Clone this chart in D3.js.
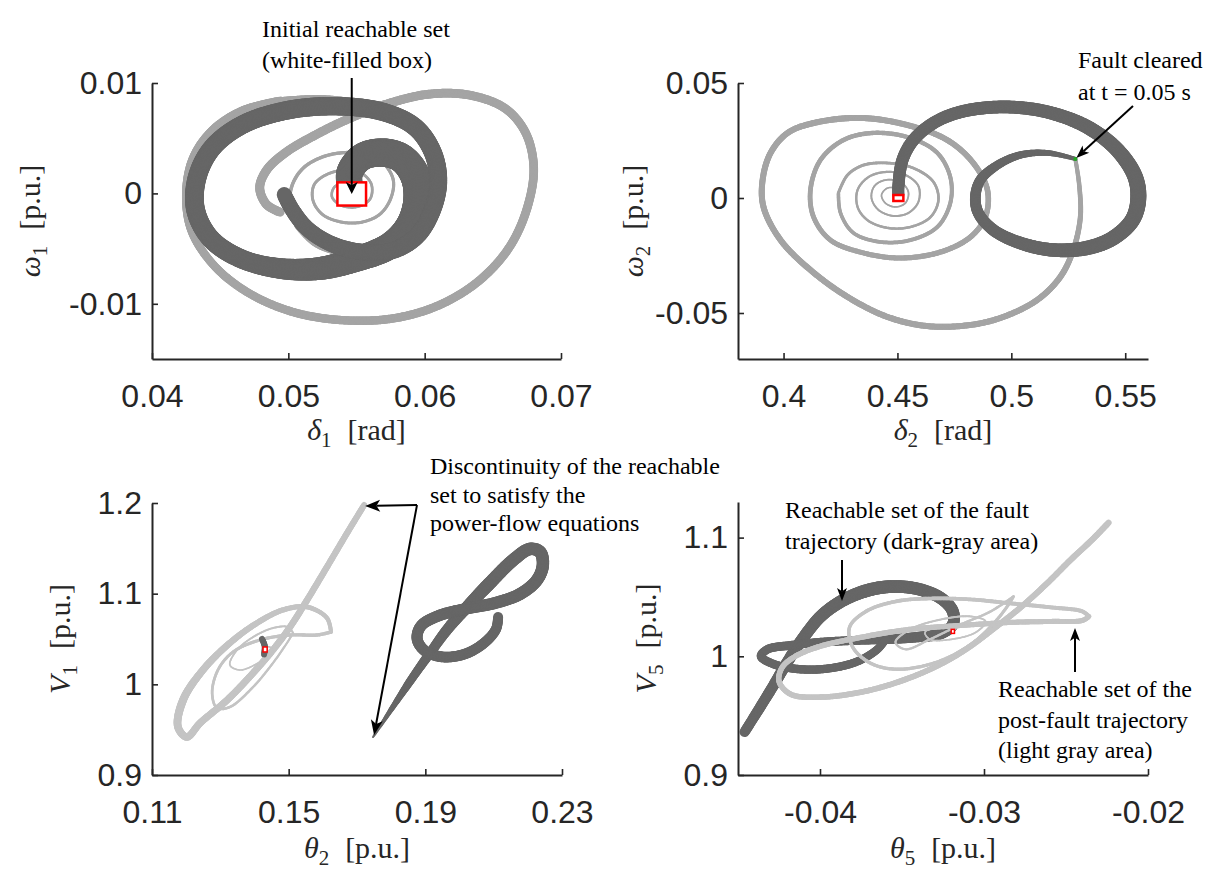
<!DOCTYPE html>
<html>
<head>
<meta charset="utf-8">
<script src="https://cdn.jsdelivr.net/npm/d3@7"></script>
<style>
  html, body { margin: 0; padding: 0; background: #fff; }
  svg { display: block; }
</style>
</head>
<body>
<svg id="chart" width="1208" height="872"></svg>
<script>
// ---------------- Panel 1: delta_1 vs omega_1 ----------------
const p1XLim = [0.04, 0.07];
const p1YLim = [-0.015, 0.01];
const p1XTicks = [0.04, 0.05, 0.06, 0.07];
const p1XTickLabels = ["0.04", "0.05", "0.06", "0.07"];
const p1YTicks = [-0.01, 0, 0.01];
const p1YTickLabels = ["-0.01", "0", "0.01"];
const p1Fault = [
  [0.0545,0.0007],[0.0545,0.0019],[0.0554,0.0033],[0.0569,0.0037],[0.0583,0.0032],[0.0593,0.0016],
  [0.0595,-0.0006],[0.0589,-0.0029],[0.0575,-0.0047],[0.0549,-0.0060],[0.0523,-0.0068],[0.0494,-0.0068],
  [0.0465,-0.0059],[0.0443,-0.0041],[0.0432,-0.0015],[0.0433,0.0014],[0.0444,0.0041],[0.0466,0.0062],
  [0.0498,0.0075],[0.0534,0.0079],[0.0569,0.0074],[0.0593,0.0060],[0.0606,0.0037],[0.0610,0.0010],
  [0.0605,-0.0017],[0.0594,-0.0039],[0.0576,-0.0052],[0.0554,-0.0053],[0.0532,-0.0046],[0.0514,-0.0032],
  [0.0503,-0.0015],[0.0497,-0.0001]
];
const p1PostOuter = [
  [0.0494,-0.0017],[0.0484,-0.0010],[0.0479,0.0005],[0.0484,0.0021],[0.0498,0.0037],[0.0520,0.0053],
  [0.0545,0.0068],[0.0575,0.0082],[0.0604,0.0090],[0.0633,0.0089],[0.0659,0.0077],[0.0674,0.0055],
  [0.0680,0.0023],[0.0675,-0.0014],[0.0662,-0.0049],[0.0640,-0.0079],[0.0611,-0.0101],[0.0578,-0.0113],
  [0.0542,-0.0115],[0.0505,-0.0108],[0.0472,-0.0091],[0.0446,-0.0066],[0.0429,-0.0034],[0.0425,0.0000],
  [0.0430,0.0032],[0.0444,0.0057],[0.0466,0.0075],[0.0494,0.0084]
];
const p1PostMiddle = [
  [0.0494,0.0084],[0.0523,0.0086],[0.0553,0.0082],[0.0580,0.0073],[0.0601,0.0057],[0.0612,0.0030],
  [0.0612,-0.0002],[0.0602,-0.0030],[0.0585,-0.0048],[0.0562,-0.0057],[0.0539,-0.0055],[0.0519,-0.0046],
  [0.0506,-0.0030]
];
const p1PostInner = [
  [0.0506,-0.0030],[0.0501,-0.0011],[0.0503,0.0008],[0.0511,0.0023],[0.0525,0.0033],[0.0542,0.0037],
  [0.0558,0.0035],[0.0570,0.0027],[0.0577,0.0012],[0.0575,-0.0005],[0.0567,-0.0019],[0.0554,-0.0026],
  [0.0539,-0.0026],[0.0525,-0.0019],[0.0518,-0.0006],[0.0519,0.0008],[0.0528,0.0017],[0.0541,0.0021],
  [0.0554,0.0018],[0.0561,0.0008],[0.0560,-0.0005],[0.0551,-0.0012],[0.0539,-0.0011],[0.0532,-0.0003],
  [0.0534,0.0006],[0.0543,0.0009],[0.0550,0.0004],[0.0547,-0.0003]
];
const p1InitBox = [0.0536, 0.0557, -0.0011, 0.0010];   // [x0, x1, y0, y1]

// ---------------- Panel 2: delta_2 vs omega_2 ----------------
const p2XLim = [0.38, 0.56];
const p2YLim = [-0.07, 0.05];
const p2XTicks = [0.4, 0.45, 0.5, 0.55];
const p2XTickLabels = ["0.4", "0.45", "0.5", "0.55"];
const p2YTicks = [-0.05, 0, 0.05];
const p2YTickLabels = ["-0.05", "0", "0.05"];
const p2Fault = [
  [0.4504,0.0013],[0.4504,0.0048],[0.4522,0.0165],[0.4570,0.0252],[0.4658,0.0326],[0.4776,0.0374],
  [0.4965,0.0396],[0.5158,0.0374],[0.5333,0.0309],[0.5465,0.0209],[0.5544,0.0091],[0.5557,-0.0009],
  [0.5531,-0.0096],[0.5447,-0.0174],[0.5333,-0.0217],[0.5184,-0.0226],[0.5040,-0.0196],[0.4921,-0.0139],
  [0.4855,-0.0065],[0.4842,0.0004],[0.4864,0.0078],[0.4939,0.0143],[0.5040,0.0187],[0.5158,0.0196],
  [0.5281,0.0170]
];
const p2PostOuter = [
  [0.5281,0.0170],[0.5298,0.0057],[0.5303,-0.0083],[0.5272,-0.0226],[0.5215,-0.0343],[0.5114,-0.0443],
  [0.4965,-0.0517],[0.4820,-0.0552],[0.4632,-0.0557],[0.4456,-0.0517],[0.4281,-0.0430],[0.4118,-0.0313],
  [0.3987,-0.0183],[0.3912,-0.0039],[0.3908,0.0078],[0.3943,0.0196],[0.4018,0.0283],[0.4132,0.0326],
  [0.4338,0.0348],[0.4544,0.0317],[0.4719,0.0252],[0.4833,0.0152],[0.4895,0.0035],[0.4886,-0.0083],
  [0.4820,-0.0170],[0.4689,-0.0235],[0.4513,-0.0261],[0.4351,-0.0239],[0.4206,-0.0183],[0.4132,-0.0083],
  [0.4118,0.0035],[0.4162,0.0165],[0.4263,0.0252],[0.4395,0.0283],[0.4557,0.0261],[0.4675,0.0196],
  [0.4732,0.0091],[0.4732,-0.0022],[0.4675,-0.0126],[0.4557,-0.0183],[0.4425,-0.0191],[0.4307,-0.0152],
  [0.4250,-0.0065],[0.4241,0.0022]
];
const p2PostInner = [
  [0.4241,0.0022],[0.4281,0.0100],[0.4351,0.0143],[0.4456,0.0152],[0.4570,0.0130],[0.4658,0.0070],
  [0.4680,-0.0009],[0.4645,-0.0083],[0.4557,-0.0126],[0.4456,-0.0130],[0.4368,-0.0096],[0.4325,-0.0039],
  [0.4325,0.0035],[0.4373,0.0091],[0.4447,0.0113],[0.4535,0.0100],[0.4592,0.0052],[0.4592,-0.0017],
  [0.4548,-0.0065],[0.4482,-0.0078],[0.4417,-0.0052],[0.4386,0.0000],[0.4399,0.0052],[0.4447,0.0078],
  [0.4513,0.0070],[0.4548,0.0026],[0.4535,-0.0022],[0.4491,-0.0039],[0.4447,-0.0022],[0.4430,0.0013],
  [0.4456,0.0043],[0.4500,0.0039],[0.4513,0.0004],[0.4487,-0.0013]
];
const p2FaultClearing = [0.5281, 0.0170];
const p2InitBox = [0.4482, 0.4526, -0.0013, 0.0013];

// ---------------- Panel 3: theta_2 vs V_1 ----------------
const p3XLim = [0.11, 0.23];
const p3YLim = [0.9, 1.2];
const p3XTicks = [0.11, 0.15, 0.19, 0.23];
const p3XTickLabels = ["0.11", "0.15", "0.19", "0.23"];
const p3YTicks = [0.9, 1.0, 1.1, 1.2];
const p3YTickLabels = ["0.9", "1", "1.1", "1.2"];
const p3FaultStart = [[0.1422,1.0500],[0.1430,1.0420],[0.1428,1.0330]];
const p3Fault = [
  [0.1747,0.9419],[0.1805,0.9750],[0.1864,1.0081],[0.1914,1.0346],[0.1963,1.0599],[0.2022,1.0853],
  [0.2089,1.1118],[0.2157,1.1371],[0.2206,1.1493],[0.2236,1.1460],[0.2244,1.1316],[0.2227,1.1151],
  [0.2177,1.0996],[0.2104,1.0897],[0.2016,1.0831],[0.1937,1.0754],[0.1887,1.0643],[0.1876,1.0500],
  [0.1899,1.0368],[0.1952,1.0302],[0.2016,1.0335],[0.2072,1.0456],[0.2107,1.0610],[0.2113,1.0743]
];
const p3PostOuter = [
  [0.1721,1.1978],[0.1671,1.1669],[0.1612,1.1294],[0.1554,1.0930],[0.1504,1.0632],[0.1454,1.0379],
  [0.1396,1.0125],[0.1320,0.9827],[0.1241,0.9574],[0.1202,0.9419],[0.1176,0.9530],[0.1191,0.9827],
  [0.1249,1.0158],[0.1328,1.0456],[0.1407,1.0676],[0.1483,1.0820],[0.1554,1.0853],[0.1612,1.0732],
  [0.1624,1.0577]
];
const p3PostMiddle = [
  [0.1624,1.0577],[0.1583,1.0544],[0.1504,1.0544],[0.1416,1.0489],[0.1337,1.0357],[0.1293,1.0158],
  [0.1276,0.9904],[0.1290,0.9739],[0.1328,0.9750],[0.1396,0.9971],[0.1454,1.0235],[0.1495,1.0456],
  [0.1513,1.0566]
];
const p3PostInner = [
  [0.1513,1.0566],[0.1498,1.0632],[0.1454,1.0621],[0.1396,1.0522],[0.1349,1.0379],[0.1328,1.0213],
  [0.1358,1.0158],[0.1416,1.0246],[0.1454,1.0346],[0.1445,1.0412],[0.1425,1.0401]
];
const p3InitBox = [0.1425, 0.1437, 1.0357, 1.0412];

// ---------------- Panel 4: theta_5 vs V_5 ----------------
const p4XLim = [-0.045, -0.02];
const p4YLim = [0.9, 1.13];
const p4XTicks = [-0.04, -0.03, -0.02];
const p4XTickLabels = ["-0.04", "-0.03", "-0.02"];
const p4YTicks = [0.9, 1.0, 1.1];
const p4YTickLabels = ["0.9", "1", "1.1"];
const p4FaultStart = [[-0.0328,1.0210],[-0.0321,1.0215]];
const p4Fault = [
  [-0.0446,0.9362],[-0.0438,0.9538],[-0.0429,0.9740],[-0.0420,0.9950],[-0.0410,1.0160],[-0.0399,1.0344],
  [-0.0385,1.0479],[-0.0369,1.0563],[-0.0354,1.0588],[-0.0339,1.0563],[-0.0326,1.0487],[-0.0319,1.0378],
  [-0.0319,1.0269],[-0.0326,1.0193],[-0.0342,1.0160],[-0.0360,1.0143],[-0.0379,1.0134],[-0.0400,1.0118],
  [-0.0418,1.0092],[-0.0432,1.0059],[-0.0436,1.0000],[-0.0428,0.9933],[-0.0412,0.9891],[-0.0394,0.9899],
  [-0.0377,0.9958],[-0.0365,1.0059],[-0.0360,1.0143]
];
const p4PostOuter = [
  [-0.0224,1.1126],[-0.0234,1.0983],[-0.0247,1.0815],[-0.0261,1.0622],[-0.0277,1.0420],[-0.0293,1.0244],
  [-0.0311,1.0059],[-0.0329,0.9916],[-0.0351,0.9790],[-0.0375,0.9698],[-0.0400,0.9656],[-0.0418,0.9681],
  [-0.0425,0.9790],[-0.0423,0.9908],[-0.0415,1.0000],[-0.0400,1.0084],[-0.0375,1.0160],[-0.0345,1.0227],
  [-0.0314,1.0260],[-0.0283,1.0286],[-0.0259,1.0294],[-0.0240,1.0302],[-0.0236,1.0336]
];
const p4PostMiddle = [
  [-0.0236,1.0336],[-0.0240,1.0378],[-0.0259,1.0412],[-0.0283,1.0445],[-0.0308,1.0479],[-0.0333,1.0487],
  [-0.0354,1.0462],[-0.0372,1.0378],[-0.0382,1.0244],[-0.0380,1.0076],[-0.0369,0.9941],[-0.0353,0.9891],
  [-0.0329,0.9950],[-0.0308,1.0101],[-0.0293,1.0294],[-0.0285,1.0437],[-0.0282,1.0504]
];
const p4PostInner = [
  [-0.0282,1.0504],[-0.0296,1.0378],[-0.0314,1.0269],[-0.0333,1.0143],[-0.0348,1.0059],[-0.0354,1.0118],
  [-0.0345,1.0227],[-0.0326,1.0311],[-0.0308,1.0336],[-0.0299,1.0294],[-0.0305,1.0202],[-0.0320,1.0143],
  [-0.0333,1.0143],[-0.0336,1.0202],[-0.0326,1.0252],[-0.0317,1.0244],[-0.0319,1.0210]
];
const p4InitBox = [-0.0320, -0.0318, 1.0193, 1.0227];

// ---------------- drawing ----------------
const svg = d3.select("#chart");
const DARK = "#666666";
const LIGHT_TOP = "#a4a4a4";
const LIGHT_BOTTOM = "#c4c4c4";
const AXIS = "#262626";
const SERIF = "'Liberation Serif','Times New Roman',Times,serif";
const SANS = "'Liberation Sans',Arial,Helvetica,sans-serif";

// A trajectory drawn as a band whose thickness follows the given stops [[t, width], ...]
function drawBand(g, pts, sx, sy, stops, color) {
  const line = d3.line().x(d => sx(d[0])).y(d => sy(d[1])).curve(d3.curveCatmullRom.alpha(0.5));
  const tmp = g.append("path").attr("d", line(pts)).attr("fill", "none").attr("stroke", "none");
  const node = tmp.node();
  const L = node.getTotalLength();
  const n = Math.max(2, Math.ceil(L / 1.5));
  const s = d3.range(n + 1).map(i => { const p = node.getPointAtLength(L * i / n); return [p.x, p.y]; });
  tmp.remove();
  const wAt = t => {
    for (let k = 1; k < stops.length; k++) {
      if (t <= stops[k][0]) {
        const a = stops[k - 1], b = stops[k];
        return a[1] + (b[1] - a[1]) * (t - a[0]) / (b[0] - a[0]);
      }
    }
    return stops[stops.length - 1][1];
  };
  const band = g.append("g").attr("stroke", color).attr("stroke-linecap", "round").attr("fill", "none");
  for (let i = 0; i < n; i++) {
    band.append("line")
      .attr("x1", s[i][0]).attr("y1", s[i][1])
      .attr("x2", s[i + 1][0]).attr("y2", s[i + 1][1])
      .attr("stroke-width", wAt((i + 0.5) / n));
  }
}

function drawBox(g, box, sx, sy, sw) {
  g.append("rect")
    .attr("x", sx(box[0])).attr("y", sy(box[3]))
    .attr("width", sx(box[1]) - sx(box[0])).attr("height", sy(box[2]) - sy(box[3]))
    .attr("fill", "#fff").attr("stroke", "#ff0000").attr("stroke-width", sw);
}

function drawAxes(g, sx, sy, xTicks, xLabels, yTicks, yLabels) {
  const xa = d3.axisBottom(sx).tickValues(xTicks).tickFormat((d, i) => xLabels[i])
    .tickSizeInner(-6).tickSizeOuter(0).tickPadding(25);
  const ya = d3.axisLeft(sy).tickValues(yTicks).tickFormat((d, i) => yLabels[i])
    .tickSizeInner(-6).tickSizeOuter(0).tickPadding(10);
  const gx = g.append("g").attr("transform", `translate(0,${sy.range()[0]})`).call(xa);
  const gy = g.append("g").attr("transform", `translate(${sx.range()[0]},0)`).call(ya);
  [gx, gy].forEach(a => {
    a.attr("font-family", SANS).attr("font-size", 32);
    a.select("path.domain").attr("stroke", AXIS).attr("stroke-width", 2);
    a.selectAll(".tick line").attr("stroke", AXIS).attr("stroke-width", 1.6);
    a.selectAll(".tick text").attr("fill", AXIS);
  });
}

// Axis label in math style: italic symbol, subscript, unit in brackets
function mathLabel(g, x, y, sym, sub, unit, rotated) {
  const t = g.append("text").attr("font-family", SERIF).attr("font-size", 30)
    .attr("fill", AXIS).attr("text-anchor", "middle");
  if (rotated) t.attr("transform", `translate(${x},${y}) rotate(-90)`);
  else t.attr("x", x).attr("y", y);
  t.append("tspan").attr("font-style", "italic").text(sym);
  t.append("tspan").attr("font-size", 21).attr("dy", 7).text(sub);
  t.append("tspan").attr("dy", -7).attr("dx", 16).text(unit);
}

function arrow(g, x1, y1, x2, y2, len, half) {
  const a = Math.atan2(y2 - y1, x2 - x1);
  const c = Math.cos(a), s = Math.sin(a);
  const bx = x2 - len * c, by = y2 - len * s;
  const nx = x2 - 0.75 * len * c, ny = y2 - 0.75 * len * s;
  g.append("line").attr("x1", x1).attr("y1", y1).attr("x2", nx).attr("y2", ny)
    .attr("stroke", "#000").attr("stroke-width", 2);
  g.append("path")
    .attr("d", `M${x2},${y2}L${bx - half * s},${by + half * c}L${nx},${ny}L${bx + half * s},${by - half * c}Z`)
    .attr("fill", "#000");
}

function noteLines(g, x, y0, lh, lines) {
  lines.forEach((t, i) => {
    g.append("text").attr("x", x).attr("y", y0 + i * lh)
      .attr("font-family", SERIF).attr("font-size", 24).attr("fill", "#000").text(t);
  });
}

// frames of the four panels
const frames = {
  p1: { left: 152, right: 561, top: 83, bottom: 359 },
  p2: { left: 738, right: 1148, top: 83, bottom: 359 },
  p3: { left: 152, right: 562, top: 503, bottom: 775 },
  p4: { left: 738, right: 1148, top: 502, bottom: 775 }
};
const xScale = (f, lim) => d3.scaleLinear().domain(lim).range([f.left, f.right]);
const yScale = (f, lim) => d3.scaleLinear().domain(lim).range([f.bottom, f.top]);

// ---- panel 1
{
  const g = svg.append("g");
  const sx = xScale(frames.p1, p1XLim), sy = yScale(frames.p1, p1YLim);
  drawBand(g, p1PostOuter, sx, sy, [[0, 9], [1, 8]], LIGHT_TOP);
  drawBand(g, p1PostMiddle, sx, sy, [[0, 7], [1, 4]], LIGHT_TOP);
  drawBand(g, p1PostInner, sx, sy, [[0, 3.5], [1, 2.5]], LIGHT_TOP);
  drawBand(g, p1Fault, sx, sy, [[0, 26], [0.1, 30], [0.2, 26], [0.33, 19], [0.75, 18], [1, 15]], DARK);
  drawBox(g, p1InitBox, sx, sy, 2.5);
  drawAxes(g, sx, sy, p1XTicks, p1XTickLabels, p1YTicks, p1YTickLabels);
  mathLabel(g, (frames.p1.left + frames.p1.right) / 2, 440, "δ", "1", "[rad]", false);
  mathLabel(g, 40, (frames.p1.top + frames.p1.bottom) / 2, "ω", "1", "[p.u.]", true);
  noteLines(g, 262, 37, 31, ["Initial reachable set", "(white-filled box)"]);
  const bx = sx((p1InitBox[0] + p1InitBox[1]) / 2), by = sy((p1InitBox[2] + p1InitBox[3]) / 2);
  arrow(g, bx, 78, bx, by, 12, 6);
}

// ---- panel 2
{
  const g = svg.append("g");
  const sx = xScale(frames.p2, p2XLim), sy = yScale(frames.p2, p2YLim);
  drawBand(g, p2PostOuter, sx, sy, [[0, 4], [0.08, 6], [0.45, 6], [1, 3.5]], LIGHT_TOP);
  drawBand(g, p2PostInner, sx, sy, [[0, 3], [1, 1.5]], LIGHT_TOP);
  drawBand(g, p2Fault, sx, sy, [[0, 12], [0.3, 13], [0.5, 16], [0.7, 13], [0.85, 10], [1, 4]], DARK);
  g.append("circle").attr("cx", sx(p2FaultClearing[0])).attr("cy", sy(p2FaultClearing[1]))
    .attr("r", 2).attr("fill", "#22aa22");
  drawBox(g, p2InitBox, sx, sy, 2.5);
  drawAxes(g, sx, sy, p2XTicks, p2XTickLabels, p2YTicks, p2YTickLabels);
  mathLabel(g, (frames.p2.left + frames.p2.right) / 2, 440, "δ", "2", "[rad]", false);
  mathLabel(g, 643, (frames.p2.top + frames.p2.bottom) / 2, "ω", "2", "[p.u.]", true);
  noteLines(g, 1078, 68, 32, ["Fault cleared", "at t = 0.05 s"]);
  arrow(g, 1133, 106, sx(p2FaultClearing[0]) + 1, sy(p2FaultClearing[1]) - 1, 13, 5);
}

// ---- panel 3
{
  const g = svg.append("g");
  const sx = xScale(frames.p3, p3XLim), sy = yScale(frames.p3, p3YLim);
  drawBand(g, p3PostOuter, sx, sy, [[0, 6], [0.5, 7], [0.62, 8], [1, 4]], LIGHT_BOTTOM);
  drawBand(g, p3PostMiddle, sx, sy, [[0, 3.5], [1, 2]], LIGHT_BOTTOM);
  drawBand(g, p3PostInner, sx, sy, [[0, 2], [1, 1.5]], LIGHT_BOTTOM);
  drawBand(g, p3FaultStart, sx, sy, [[0, 6], [1, 6]], DARK);
  drawBand(g, p3Fault, sx, sy, [[0, 2], [0.12, 8], [0.35, 13], [0.6, 12], [1, 10]], DARK);
  drawBox(g, p3InitBox, sx, sy, 1.5);
  drawAxes(g, sx, sy, p3XTicks, p3XTickLabels, p3YTicks, p3YTickLabels);
  mathLabel(g, (frames.p3.left + frames.p3.right) / 2, 858, "θ", "2", "[p.u.]", false);
  mathLabel(g, 70, (frames.p3.top + frames.p3.bottom) / 2, "V", "1", "[p.u.]", true);
  noteLines(g, 430, 474, 28.5, ["Discontinuity of the reachable", "set to satisfy the", "power-flow equations"]);
  const tx = 417, ty = 505;
  arrow(g, tx, ty, sx(p3PostOuter[0][0]) + 1, sy(p3PostOuter[0][1]) + 1, 15, 6);
  arrow(g, tx, ty, sx(p3Fault[0][0]) + 1, sy(p3Fault[0][1]) - 2, 15, 6);
}

// ---- panel 4
{
  const g = svg.append("g");
  const sx = xScale(frames.p4, p4XLim), sy = yScale(frames.p4, p4YLim);
  drawBand(g, p4Fault, sx, sy, [[0, 10], [0.3, 13], [0.45, 12], [0.6, 9], [1, 8]], DARK);
  drawBand(g, p4FaultStart, sx, sy, [[0, 5], [1, 5]], DARK);
  drawBand(g, p4PostOuter, sx, sy, [[0, 6], [1, 5]], LIGHT_BOTTOM);
  drawBand(g, p4PostMiddle, sx, sy, [[0, 4], [1, 3]], LIGHT_BOTTOM);
  drawBand(g, p4PostInner, sx, sy, [[0, 2.5], [1, 1.5]], LIGHT_BOTTOM);
  drawBox(g, p4InitBox, sx, sy, 1.5);
  drawAxes(g, sx, sy, p4XTicks, p4XTickLabels, p4YTicks, p4YTickLabels);
  mathLabel(g, (frames.p4.left + frames.p4.right) / 2, 858, "θ", "5", "[p.u.]", false);
  mathLabel(g, 656, (frames.p4.top + frames.p4.bottom) / 2, "V", "5", "[p.u.]", true);
  noteLines(g, 785, 518, 31, ["Reachable set of the fault", "trajectory (dark-gray area)"]);
  arrow(g, 842, 560, 842, 601, 13, 5);
  noteLines(g, 998, 697, 30.5, ["Reachable set of the", "post-fault trajectory", "(light gray area)"]);
  arrow(g, 1075, 672, 1075, 628, 13, 5);
}
</script>
</body>
</html>
